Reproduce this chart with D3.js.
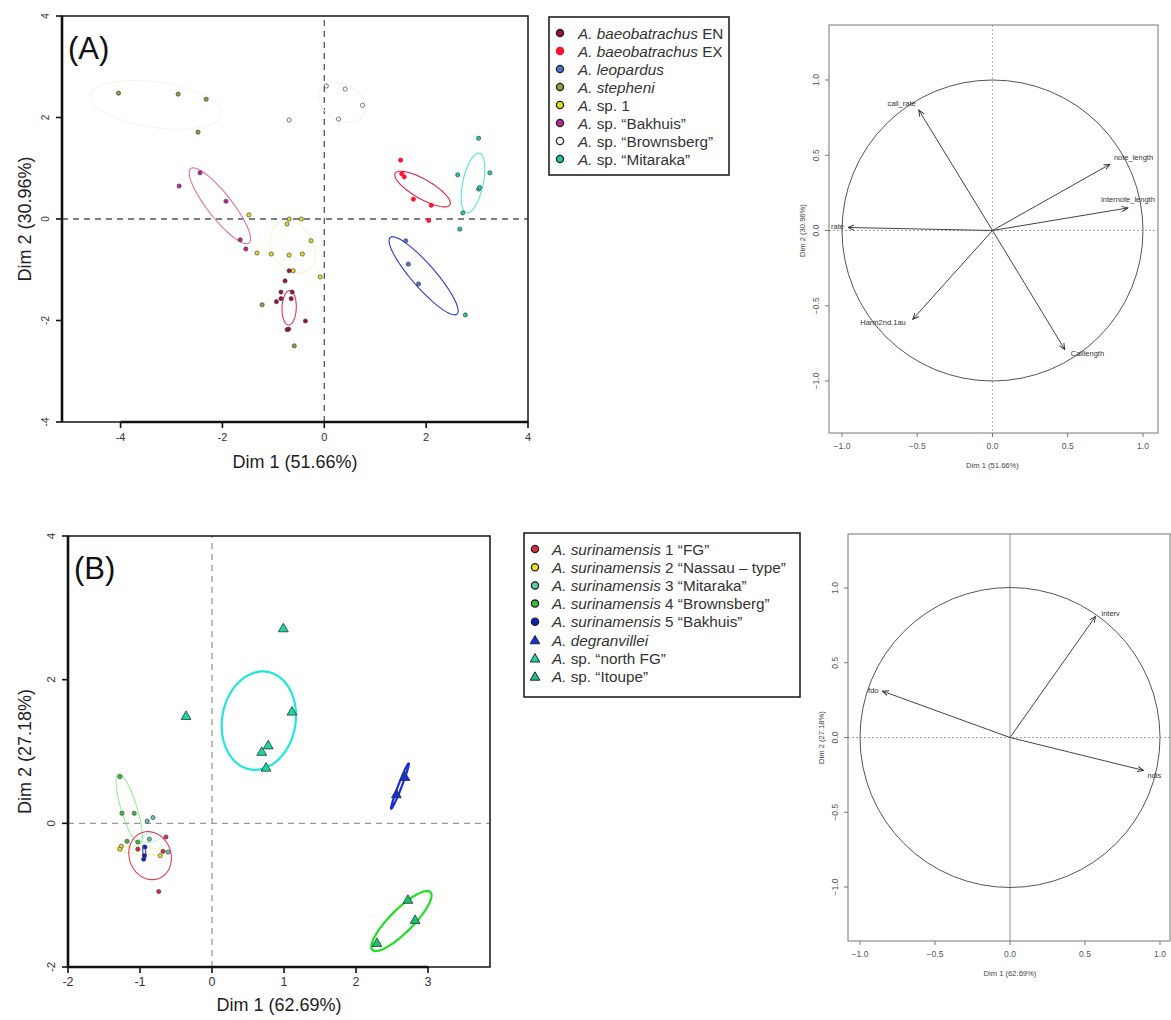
<!DOCTYPE html>
<html>
<head>
<meta charset="utf-8">
<script src="https://cdn.jsdelivr.net/npm/d3@7"></script>
<style>
body { margin: 0; background: #fff; }
text { font-family: "Liberation Sans", Arial, sans-serif; }
</style>
</head>
<body>
<svg id="fig" width="1171" height="1020"></svg>
<script>
// ---------- panel A : individuals ----------
const legendA = [['A. baeobatrachus', ' EN'], ['A. baeobatrachus', ' EX'], ['A. leopardus', ''], ['A. stepheni', ''],
  ['A.', ' sp. 1'], ['A.', ' sp. “Bakhuis”'], ['A.', ' sp. “Brownsberg”'], ['A.', ' sp. “Mitaraka”']]
const colorsA = ['#9b1040', '#ff1030', '#4a78c0', '#9a9a40', '#e4e020', '#c0209a', '#ffffff', '#20c8a8']
const ellColorsA = ['#e03060', '#e02040', '#3434d0', '#f7f5e8', '#f6f6d8', '#e070a8', '#f3f3f3', '#50e8d8']
// [dim1, dim2, group]
const pointsA = [
  [0.04, 2.62, 6], [0.41, 2.56, 6], [0.75, 2.24, 6], [0.28, 1.97, 6], [-0.69, 1.95, 6],
  [-4.04, 2.48, 3], [-2.87, 2.46, 3], [-2.32, 2.36, 3], [-2.48, 1.71, 3], [-1.22, -1.69, 3], [-0.59, -2.5, 3],
  [-2.44, 0.91, 5], [-2.85, 0.65, 5], [-1.93, 0.35, 5], [-1.65, -0.41, 5], [-1.54, -0.59, 5],
  [-1.48, 0.08, 4], [-0.69, 0.0, 4], [-0.73, -0.1, 4], [-0.45, 0.0, 4], [-0.26, -0.43, 4], [-1.32, -0.67, 4],
  [-1.04, -0.69, 4], [-0.69, -0.71, 4], [-0.43, -0.69, 4], [-0.61, -1.02, 4], [-0.08, -1.14, 4],
  [-0.69, -1.02, 0], [-0.77, -1.22, 0], [-0.85, -1.44, 0], [-0.63, -1.44, 0], [-0.85, -1.57, 0],
  [-0.65, -1.57, 0], [-0.94, -1.63, 0], [-0.37, -2.01, 0], [-0.73, -2.18, 0], [-0.70, -2.17, 0],
  [1.5, 1.16, 1], [1.52, 0.89, 1], [1.57, 0.83, 1], [1.75, 0.39, 1], [2.1, 0.27, 1], [2.05, -0.03, 1],
  [3.03, 1.59, 7], [2.62, 0.87, 7], [3.25, 0.91, 7], [3.03, 0.59, 7], [3.05, 0.62, 7], [2.72, 0.12, 7],
  [2.66, -0.2, 7], [2.77, -1.89, 7],
  [1.6, -0.43, 2], [1.65, -0.89, 2], [1.85, -1.28, 2]
]
// [centre1, centre2, semi-major, semi-minor, angle (deg), group]
const ellipsesA = [
  [-3.3, 2.25, 1.3, 0.45, -8, 3], [-0.62, -0.55, 0.55, 0.4, -60, 4], [0.35, 2.3, 0.5, 0.35, -30, 6],
  [-0.69, -1.75, 0.34, 0.14, 88, 0], [1.93, 0.59, 0.62, 0.19, -30, 1], [1.95, -1.12, 1.0, 0.23, -49, 2],
  [-2.05, 0.26, 0.93, 0.24, -52, 5], [2.92, 0.71, 0.6, 0.2, 78, 7]
]
const varsA = ['call_rate', 'note_length', 'internote_length', 'rate', 'Harm2nd.1au', 'Calllength']
const loadA1 = [-0.49, 0.78, 0.90, -0.96, -0.53, 0.48]
const loadA2 = [0.80, 0.44, 0.15, 0.02, -0.59, -0.79]

// ---------- panel B : individuals ----------
const legendB = [['A. surinamensis', ' 1 “FG”'], ['A. surinamensis', ' 2 “Nassau – type”'], ['A. surinamensis', ' 3 “Mitaraka”'],
  ['A. surinamensis', ' 4 “Brownsberg”'], ['A. surinamensis', ' 5 “Bakhuis”'], ['A. degranvillei', ''],
  ['A.', ' sp. “north FG”'], ['A.', ' sp. “Itoupe”']]
const colorsB = ['#e02848', '#e8e020', '#60c8b0', '#38c038', '#1020c0', '#1a2dd0', '#20d4a0', '#20c070']
const ellColorsB = ['#e04058', '#f4f4a8', '#b8f2f2', '#9cea9c', '#2030e0', '#1a2dd8', '#20e8d8', '#20e020']
const pointsB = [
  [-1.28, 0.65, 3], [-1.25, 0.14, 3], [-1.08, 0.14, 3], [-0.90, 0.03, 2], [-0.82, 0.08, 2],
  [-1.18, -0.25, 3], [-1.26, -0.32, 1], [-1.28, -0.36, 1], [-1.03, -0.26, 3], [-0.87, -0.22, 2],
  [-1.03, -0.36, 0], [-0.93, -0.33, 4], [-0.94, -0.45, 4], [-0.95, -0.50, 4], [-0.64, -0.19, 0],
  [-0.68, -0.39, 0], [-0.61, -0.40, 2], [-0.72, -0.45, 1], [-0.74, -0.95, 0],
  [0.99, 2.72, 6], [-0.36, 1.5, 6], [1.11, 1.56, 6], [0.78, 1.09, 6], [0.69, 1.0, 6], [0.75, 0.78, 6],
  [2.72, -1.06, 7], [2.82, -1.34, 7], [2.29, -1.66, 7],
  [2.68, 0.65, 5], [2.56, 0.41, 5]
]
const ellipsesB = [
  [-0.97, -0.38, 0.38, 0.05, -5, 1], [-0.85, -0.2, 0.15, 0.06, 10, 2], [-1.15, 0.2, 0.51, 0.11, 107, 3],
  [-0.86, -0.45, 0.34, 0.29, -70, 0], [-0.94, -0.4, 0.1, 0.02, 95, 4],
  [2.61, 0.52, 0.34, 0.025, 69, 5], [0.65, 1.43, 0.69, 0.51, 80, 6], [2.63, -1.36, 0.57, 0.16, 45, 7]
]
const varsB = ['interv', 'fdo', 'ndis']
const loadB1 = [0.57, -0.85, 0.89]
const loadB2 = [0.81, 0.31, -0.22]

const svg = d3.select('#fig')
svg.append('rect').attr('width', 1171).attr('height', 1020).attr('fill', '#fff')

svg.append('defs').append('marker')
  .attr('id', 'arr').attr('viewBox', '0 0 8 8').attr('refX', 7).attr('refY', 4)
  .attr('markerWidth', 7).attr('markerHeight', 7).attr('orient', 'auto')
  .append('path').attr('d', 'M0,1 L7,4 L0,7').attr('fill', 'none').attr('stroke', '#333').attr('stroke-width', 1.1)

function ellipsePath (e, x, y) {
  const th = e[4] * Math.PI / 180
  const pts = d3.range(0, 73).map(function (i) {
    const t = i / 72 * 2 * Math.PI
    return [e[0] + e[2] * Math.cos(t) * Math.cos(th) - e[3] * Math.sin(t) * Math.sin(th),
      e[1] + e[2] * Math.cos(t) * Math.sin(th) + e[3] * Math.sin(t) * Math.cos(th)]
  })
  return d3.line().x(function (d) { return x(d[0]) }).y(function (d) { return y(d[1]) })(pts)
}

// Draw a score plot (individuals)
function drawScatter (o) {
  const g = svg.append('g')
  const x = o.x
  const y = o.y
  const [x0, x1] = x.range()
  const [y0, y1] = y.range()
  // dashed zero lines
  g.append('line').attr('x1', x(0)).attr('x2', x(0)).attr('y1', y0).attr('y2', y1)
    .attr('stroke', o.dashCol).attr('stroke-width', 1.3).attr('stroke-dasharray', '6,5')
  g.append('line').attr('x1', x0).attr('x2', x1).attr('y1', y(0)).attr('y2', y(0))
    .attr('stroke', o.dashCol).attr('stroke-width', 1.3).attr('stroke-dasharray', '6,5')
  // ellipses
  o.ellipses.forEach(function (e) {
    g.append('path').attr('d', ellipsePath(e, x, y)).attr('fill', 'none')
      .attr('stroke', o.ellCols[e[5]]).attr('stroke-width', o.ellWidth(e[5]))
  })
  // points
  o.points.forEach(function (p) {
    const tri = o.triangle(p[2])
    if (tri) {
      g.append('path').attr('d', d3.symbol(d3.symbolTriangle, 42)())
        .attr('transform', 'translate(' + x(p[0]) + ',' + (y(p[1]) + 1) + ')')
        .attr('fill', o.cols[p[2]]).attr('stroke', '#1a3a30').attr('stroke-width', 0.8)
    } else {
      g.append('circle').attr('cx', x(p[0])).attr('cy', y(p[1])).attr('r', 2.1)
        .attr('fill', o.cols[p[2]]).attr('stroke', p[2] === o.noRing ? o.cols[p[2]] : '#444').attr('stroke-width', 0.7)
    }
  })
  // frame
  g.append('rect').attr('x', x0).attr('y', y1).attr('width', x1 - x0).attr('height', y0 - y1)
    .attr('fill', 'none').attr('stroke', '#222').attr('stroke-width', 1.6)
  // axes
  const xs = o.xTicks
  g.append('line').attr('x1', x(xs[0])).attr('x2', x(xs[xs.length - 1])).attr('y1', y0).attr('y2', y0)
    .attr('stroke', '#111').attr('stroke-width', 2.6)
  xs.forEach(function (t) {
    g.append('line').attr('x1', x(t)).attr('x2', x(t)).attr('y1', y0).attr('y2', y0 + 6).attr('stroke', '#111').attr('stroke-width', 1.6)
    g.append('text').attr('x', x(t)).attr('y', y0 + 19).attr('text-anchor', 'middle')
      .attr('font-size', o.tickSize).attr('fill', '#333').text(t < 0 ? '-' + Math.abs(t) : t)
  })
  const ys = o.yTicks
  g.append('line').attr('x1', x0).attr('x2', x0).attr('y1', y(ys[0])).attr('y2', y(ys[ys.length - 1]))
    .attr('stroke', '#111').attr('stroke-width', 2.6)
  ys.forEach(function (t) {
    g.append('line').attr('x1', x0 - 6).attr('x2', x0).attr('y1', y(t)).attr('y2', y(t)).attr('stroke', '#111').attr('stroke-width', 1.6)
    g.append('text').attr('transform', 'translate(' + (x0 - 13) + ',' + y(t) + ') rotate(-90)')
      .attr('text-anchor', 'middle').attr('font-size', o.tickSize - 1).attr('fill', '#333').text(t < 0 ? '-' + Math.abs(t) : t)
  })
  g.append('text').attr('x', (x0 + x1) / 2).attr('y', y0 + o.xTitleOff).attr('text-anchor', 'middle')
    .attr('font-size', 18).attr('fill', '#222').text(o.xTitle)
  g.append('text').attr('transform', 'translate(' + o.yTitleX + ',' + ((y0 + y1) / 2) + ') rotate(-90)')
    .attr('text-anchor', 'middle').attr('font-size', 18).attr('fill', '#222').text(o.yTitle)
  g.append('text').attr('x', x0 + 6).attr('y', y1 + 43).attr('font-size', 31).attr('fill', '#111').text(o.tag)
}

function drawLegend (o) {
  const g = svg.append('g')
  g.append('rect').attr('x', o.x).attr('y', o.y).attr('width', o.w).attr('height', o.h)
    .attr('fill', '#fff').attr('stroke', '#222').attr('stroke-width', 1.6)
  o.labels.forEach(function (l, i) {
    const cy = o.y + 16 + i * o.step
    if (o.triangle(i)) {
      g.append('path').attr('d', d3.symbol(d3.symbolTriangle, 40)())
        .attr('transform', 'translate(' + (o.x + 11) + ',' + (cy + 1) + ')')
        .attr('fill', o.cols[i]).attr('stroke', '#223').attr('stroke-width', 1)
    } else {
      g.append('circle').attr('cx', o.x + 11).attr('cy', cy).attr('r', 3.6)
        .attr('fill', o.cols[i]).attr('stroke', i === o.noRing ? o.cols[i] : '#222').attr('stroke-width', 1.3)
    }
    const t = g.append('text').attr('x', o.x + o.tx).attr('y', cy + 5.5).attr('font-size', 15.3).attr('fill', '#333')
    t.append('tspan').attr('font-style', 'italic').text(l[0])
    t.append('tspan').text(l[1])
  })
}

// Draw a variables factor map (correlation circle)
function drawCircle (o) {
  const g = svg.append('g')
  const x = o.x
  const y = o.y
  const b = o.box
  g.append('line').attr('x1', x(0)).attr('x2', x(0)).attr('y1', b[1]).attr('y2', b[3])
    .attr('stroke', o.vCol).attr('stroke-width', 0.9).attr('stroke-dasharray', o.vDash)
  g.append('line').attr('x1', b[0]).attr('x2', b[2]).attr('y1', y(0)).attr('y2', y(0))
    .attr('stroke', '#999').attr('stroke-width', 0.9).attr('stroke-dasharray', '2,2')
  g.append('circle').attr('cx', x(0)).attr('cy', y(0)).attr('r', x(1) - x(0))
    .attr('fill', 'none').attr('stroke', '#555').attr('stroke-width', 1)
  g.append('rect').attr('x', b[0]).attr('y', b[1]).attr('width', b[2] - b[0]).attr('height', b[3] - b[1])
    .attr('fill', 'none').attr('stroke', '#777').attr('stroke-width', 1)
  o.vars.forEach(function (v, i) {
    g.append('line').attr('x1', x(0)).attr('y1', y(0)).attr('x2', x(o.l1[i])).attr('y2', y(o.l2[i]))
      .attr('stroke', '#444').attr('stroke-width', 1).attr('marker-end', 'url(#arr)')
    const lp = o.labelPos[v]
    g.append('text').attr('x', x(o.l1[i]) + lp[0]).attr('y', y(o.l2[i]) + lp[1]).attr('text-anchor', lp[2])
      .attr('font-size', 7.5).attr('fill', '#333').text(v)
  })
  const fmt = d3.format('.1f')
  o.ticks.forEach(function (t) {
    g.append('line').attr('x1', x(t)).attr('x2', x(t)).attr('y1', b[3]).attr('y2', b[3] + 4).attr('stroke', '#777')
    g.append('text').attr('x', x(t)).attr('y', b[3] + 16).attr('text-anchor', 'middle')
      .attr('font-size', 8.5).attr('fill', '#555').text(fmt(t).replace('-', '−'))
    g.append('line').attr('x1', b[0] - 4).attr('x2', b[0]).attr('y1', y(t)).attr('y2', y(t)).attr('stroke', '#777')
    g.append('text').attr('transform', 'translate(' + (b[0] - 10) + ',' + y(t) + ') rotate(-90)')
      .attr('text-anchor', 'middle').attr('font-size', 8.5).attr('fill', '#555').text(fmt(t).replace('-', '−'))
  })
  g.append('text').attr('x', x(0)).attr('y', b[3] + 35).attr('text-anchor', 'middle')
    .attr('font-size', 7.6).attr('fill', '#444').text(o.xTitle)
  g.append('text').attr('transform', 'translate(' + (b[0] - 24) + ',' + y(0) + ') rotate(-90)')
    .attr('text-anchor', 'middle').attr('font-size', 7.6).attr('fill', '#444').text(o.yTitle)
}

// ---------- panel A ----------
drawScatter({
  x: d3.scaleLinear().domain([-5.15, 4]).range([62, 528]),
  y: d3.scaleLinear().domain([-4, 4]).range([422, 16]),
  points: pointsA,
  ellipses: ellipsesA,
  cols: colorsA,
  ellCols: ellColorsA,
  ellWidth: function () { return 1.1 },
  triangle: function () { return false },
  noRing: 1,
  dashCol: '#555',
  xTicks: [-4, -2, 0, 2, 4],
  yTicks: [-4, -2, 0, 2, 4],
  tickSize: 11,
  xTitle: 'Dim 1 (51.66%)',
  yTitle: 'Dim 2 (30.96%)',
  xTitleOff: 46,
  yTitleX: 31,
  tag: '(A)'
})
drawLegend({ x: 549, y: 17, w: 180, h: 158, step: 18, tx: 29, labels: legendA, cols: colorsA, noRing: 1, triangle: function () { return false } })
drawCircle({
  x: d3.scaleLinear().domain([-1, 1]).range([842, 1143]),
  y: d3.scaleLinear().domain([-1, 1]).range([381, 80]),
  box: [829, 25, 1158, 433],
  vars: varsA,
  l1: loadA1,
  l2: loadA2,
  labelPos: {
    call_rate: [-3, -4, 'end'],
    note_length: [4, -4, 'start'],
    internote_length: [0, -6, 'middle'],
    rate: [-4, 2, 'end'],
    'Harm2nd.1au': [-7, 6, 'end'],
    Calllength: [6, 7, 'start']
  },
  ticks: [-1, -0.5, 0, 0.5, 1],
  vCol: '#aaa',
  vDash: '2,2',
  xTitle: 'Dim 1 (51.66%)',
  yTitle: 'Dim 2 (30.96%)'
})

// ---------- panel B ----------
drawScatter({
  x: d3.scaleLinear().domain([-2, 3.86]).range([68, 490]),
  y: d3.scaleLinear().domain([-2, 4]).range([967, 536]),
  points: pointsB,
  ellipses: ellipsesB,
  cols: colorsB,
  ellCols: ellColorsB,
  ellWidth: function (gi) { return gi >= 5 ? 2.2 : 1.1 },
  triangle: function (gi) { return gi >= 5 },
  noRing: -1,
  dashCol: '#999',
  xTicks: [-2, -1, 0, 1, 2, 3],
  yTicks: [-2, 0, 2, 4],
  tickSize: 12.5,
  xTitle: 'Dim 1 (62.69%)',
  yTitle: 'Dim 2 (27.18%)',
  xTitleOff: 44,
  yTitleX: 31,
  tag: '(B)'
})
drawLegend({ x: 524, y: 533, w: 276, h: 164, step: 18.2, tx: 28, labels: legendB, cols: colorsB, noRing: -1, triangle: function (i) { return i >= 5 } })
drawCircle({
  x: d3.scaleLinear().domain([-1, 1]).range([860, 1160]),
  y: d3.scaleLinear().domain([-1, 1]).range([887, 588]),
  box: [848, 534, 1170, 941],
  vars: varsB,
  l1: loadB1,
  l2: loadB2,
  labelPos: {
    interv: [6, 0, 'start'],
    fdo: [-4, 2, 'end'],
    ndis: [4, 8, 'start']
  },
  ticks: [-1, -0.5, 0, 0.5, 1],
  vCol: '#888',
  vDash: null,
  xTitle: 'Dim 1 (62.69%)',
  yTitle: 'Dim 2 (27.18%)'
})
</script>
</body>
</html>
